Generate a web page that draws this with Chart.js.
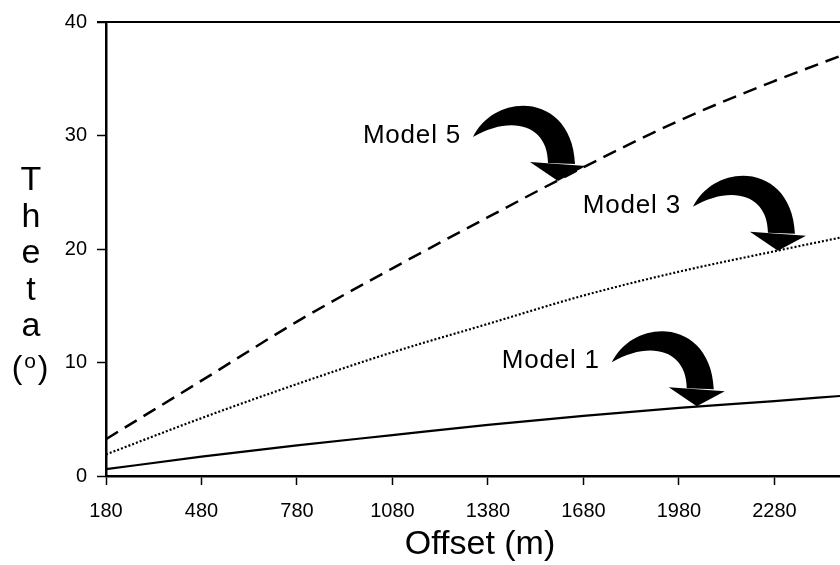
<!DOCTYPE html>
<html>
<head>
<meta charset="utf-8">
<script src="https://cdn.jsdelivr.net/npm/chart.js@4.4.1/dist/chart.umd.min.js"></script>
<style>
  html, body { margin: 0; padding: 0; background: #fff; }
  #wrap { width: 840px; height: 565px; }
</style>
</head>
<body>
<div id="wrap"><canvas id="thetaChart" width="840" height="565"></canvas></div>
<script>
// offset (m) and angle theta (deg)
const offsets = [180, 480, 780, 1080, 1380, 1680, 1980, 2280, 2486];
const model1 = [0.6, 1.7, 2.7, 3.6, 4.5, 5.3, 6.0, 6.6, 7.05];
const model3 = [1.9, 5.1, 8.1, 10.9, 13.4, 15.9, 18.0, 19.8, 21.0];
const model5 = [3.25, 8.4, 13.6, 18.3, 22.8, 27.2, 31.3, 34.8, 37.0];

const xTicks = [180, 480, 780, 1080, 1380, 1680, 1980, 2280];
const yTicks = [0, 10, 20, 30, 40];

// where each curved arrow touches its curve
const calloutLabels = ['Model 5', 'Model 3', 'Model 1'];
const calloutX = [1600, 2291, 2036];
const calloutY = [26.0, 19.85, 6.15];

const FONT = '"Liberation Sans", Arial, Helvetica, sans-serif';

const toPoints = (ys) => offsets.map((x, i) => ({ x: x, y: ys[i] }));

function drawArrow(ctx, tx, ty) {
  ctx.save();
  ctx.translate(tx, ty);
  ctx.fillStyle = '#000';
  // body, thin at the tail and fat near the head
  ctx.beginPath();
  ctx.moveTo(-85, -44);
  ctx.bezierCurveTo(-62, -90, 14, -88, 17, -17);
  ctx.lineTo(-10, -18);
  ctx.bezierCurveTo(-10, -55, -45, -67, -85, -44);
  ctx.closePath();
  ctx.fill();
  // head
  ctx.beginPath();
  ctx.moveTo(-28, -19);
  ctx.lineTo(28, -15);
  ctx.lineTo(0, 0);
  ctx.closePath();
  ctx.fill();
  ctx.restore();
}

const paperPlugin = {
  id: 'paper',
  beforeDraw(chart) {
    const ctx = chart.ctx;
    ctx.save();
    ctx.fillStyle = '#fff';
    ctx.fillRect(0, 0, chart.width, chart.height);
    ctx.restore();
  },
  afterDraw(chart) {
    const ctx = chart.ctx;
    const area = chart.chartArea;
    const xs = chart.scales.x;
    const ys = chart.scales.y;
    ctx.save();

    // top frame line
    ctx.strokeStyle = '#000';
    ctx.lineWidth = 2;
    ctx.beginPath();
    ctx.moveTo(area.left - 9, area.top);
    ctx.lineTo(area.right, area.top);
    ctx.stroke();

    // stacked y title
    ctx.fillStyle = '#000';
    ctx.textAlign = 'center';
    ctx.textBaseline = 'middle';
    ctx.font = '34px ' + FONT;
    const letters = ['T', 'h', 'e', 't', 'a'];
    letters.forEach((ch, i) => ctx.fillText(ch, 31, 181 + i * 36.5));
    ctx.font = '32px ' + FONT;
    ctx.fillText('(', 17, 369);
    ctx.fillText(')', 43, 369);
    ctx.font = '21px ' + FONT;
    ctx.fillText('o', 30, 362);

    // x title
    ctx.font = '34px ' + FONT;
    ctx.fillText('Offset (m)', (area.left + area.right) / 2 + 7, 545);

    // callouts
    ctx.font = '26px ' + FONT;
    ctx.textAlign = 'right';
    ctx.letterSpacing = '0.8px';
    calloutLabels.forEach((lab, i) => {
      const px = xs.getPixelForValue(calloutX[i]);
      const py = ys.getPixelForValue(calloutY[i]);
      drawArrow(ctx, px, py);
      ctx.fillText(lab, px - 97, py - 45);
    });
    ctx.restore();
  }
};

new Chart(document.getElementById('thetaChart'), {
  type: 'line',
  data: {
    datasets: [
      {
        label: 'Model 5',
        data: toPoints(model5),
        borderColor: '#000',
        borderWidth: 2.5,
        borderDash: [14, 8],
        cubicInterpolationMode: 'monotone',
        pointRadius: 0
      },
      {
        label: 'Model 3',
        data: toPoints(model3),
        borderColor: '#000',
        borderWidth: 2.2,
        borderDash: [2, 2],
        cubicInterpolationMode: 'monotone',
        pointRadius: 0
      },
      {
        label: 'Model 1',
        data: toPoints(model1),
        borderColor: '#000',
        borderWidth: 2.2,
        cubicInterpolationMode: 'monotone',
        pointRadius: 0
      }
    ]
  },
  options: {
    responsive: false,
    animation: false,
    devicePixelRatio: 1,
    layout: { padding: { top: 18, right: 0, left: 0, bottom: 0 } },
    plugins: {
      legend: { display: false },
      tooltip: { enabled: false }
    },
    scales: {
      x: {
        type: 'linear',
        min: 180,
        max: 2486,
        afterBuildTicks: (axis) => { axis.ticks = xTicks.map((v) => ({ value: v })); },
        afterFit: (axis) => { axis.height = 89; },
        border: { display: true, color: '#000', width: 2.5 },
        grid: { drawOnChartArea: false, drawTicks: true, tickLength: 9, tickColor: '#000', tickWidth: 1.5 },
        ticks: {
          color: '#000',
          font: { family: FONT, size: 20 },
          padding: 14,
          maxRotation: 0,
          callback: (v) => String(v)
        }
      },
      y: {
        min: 0,
        max: 40,
        afterBuildTicks: (axis) => { axis.ticks = yTicks.map((v) => ({ value: v })); },
        afterFit: (axis) => { axis.width = 106; },
        border: { display: true, color: '#000', width: 2.5 },
        grid: { drawOnChartArea: false, drawTicks: true, tickLength: 9, tickColor: '#000', tickWidth: 1.5 },
        ticks: {
          color: '#000',
          font: { family: FONT, size: 20 },
          padding: 10,
          callback: (v) => String(v)
        }
      }
    }
  },
  plugins: [paperPlugin]
});
</script>
</body>
</html>
